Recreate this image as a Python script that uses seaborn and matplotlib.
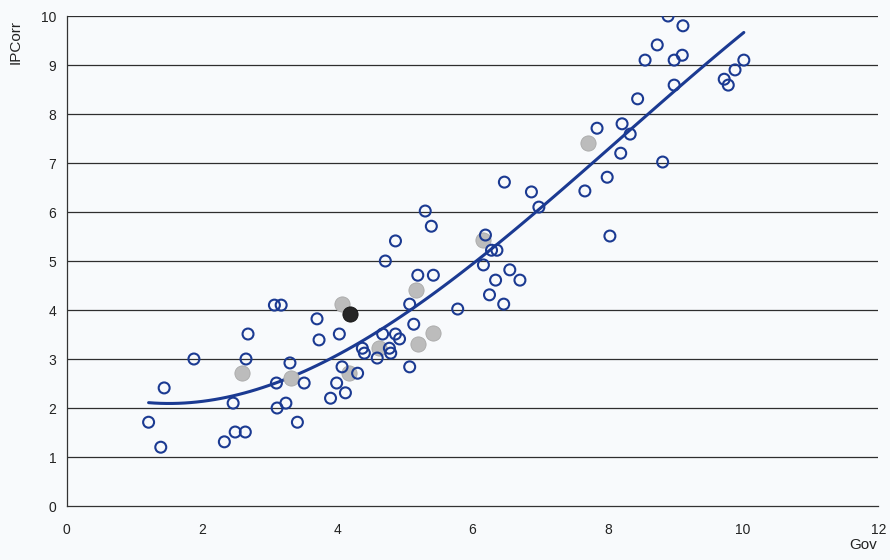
import matplotlib.pyplot as plt
import numpy as np
import pandas as pd
import seaborn as sns

# open circles
gov_open = [1.21, 1.39, 1.44, 1.88, 2.33, 2.46, 2.49, 2.64, 2.65, 2.68,
            3.07, 3.17, 3.10, 3.11, 3.24, 3.30, 3.41, 3.51, 3.70, 3.73,
            3.90, 3.99, 4.03, 4.07, 4.12, 4.30, 4.37, 4.40, 4.59, 4.67,
            4.71, 4.77, 4.79, 4.86, 4.86, 4.92, 5.07, 5.07, 5.13, 5.19,
            5.30, 5.39, 5.42, 5.78, 6.19, 6.16, 6.25, 6.28, 6.36, 6.34,
            6.46, 6.47, 6.55, 6.70, 6.87, 6.98, 7.66, 7.84, 7.99, 8.03,
            8.19, 8.21, 8.33, 8.44, 8.55, 8.73, 8.81, 8.89, 8.98, 8.98,
            9.10, 9.11, 9.72, 9.78, 9.88, 10.01]
ipc_open = [1.71, 1.20, 2.41, 3.00, 1.31, 2.10, 1.51, 1.51, 3.00, 3.51,
            4.10, 4.10, 2.51, 2.00, 2.10, 2.92, 1.71, 2.51, 3.82, 3.39,
            2.20, 2.51, 3.51, 2.84, 2.31, 2.71, 3.22, 3.12, 3.02, 3.51,
            5.00, 3.22, 3.12, 3.51, 5.41, 3.41, 2.84, 4.12, 3.71, 4.71,
            6.02, 5.71, 4.71, 4.02, 5.53, 4.92, 4.31, 5.22, 5.22, 4.61,
            4.12, 6.61, 4.82, 4.61, 6.41, 6.10, 6.43, 7.71, 6.71, 5.51,
            7.20, 7.80, 7.59, 8.31, 9.10, 9.41, 7.02, 10.00, 9.10, 8.59,
            9.20, 9.80, 8.71, 8.59, 8.90, 9.10]

# grey filled circles
gov_grey = [2.59, 3.32, 4.07, 4.18, 4.61, 5.17, 5.19, 5.41, 6.15, 7.70]
ipc_grey = [2.71, 2.61, 4.12, 2.71, 3.22, 4.41, 3.31, 3.53, 5.43, 7.41]

# black filled circle
gov_black = [4.19]
ipc_black = [3.92]

x_ticks = [0, 2, 4, 6, 8, 10, 12]
y_ticks = [0, 1, 2, 3, 4, 5, 6, 7, 8, 9, 10]

sns.set_theme(style="white")
plt.rcParams["font.family"] = ["Liberation Sans", "DejaVu Sans"]

blue = "#1b3a92"
bg = "#f8fafc"

all_df = pd.DataFrame({
    "Gov": gov_open + gov_grey + gov_black,
    "IPCorr": ipc_open + ipc_grey + ipc_black,
})

fig = plt.figure(figsize=(8.9, 5.6), dpi=100, facecolor=bg)
ax = fig.add_axes([0.075, 0.0964, 0.912, 0.875])
ax.set_facecolor(bg)

for y in y_ticks[1:]:
    ax.axhline(y, color="#2e2e2e", lw=0.9, zorder=0)

sns.regplot(data=all_df, x="Gov", y="IPCorr", order=3, ci=None, scatter=False,
            line_kws={"color": blue, "lw": 2.2}, ax=ax)

sns.scatterplot(x=gov_grey, y=ipc_grey, s=120, color="#bcbcbc",
                edgecolor="#a9a9a9", linewidth=0.6, ax=ax, zorder=3)
sns.scatterplot(x=gov_black, y=ipc_black, s=120, color="#262626",
                edgecolor="#111111", linewidth=0.6, ax=ax, zorder=3)
sns.scatterplot(x=gov_open, y=ipc_open, s=62, facecolor="none",
                edgecolor=blue, linewidth=1.5, ax=ax, zorder=4)

ax.set_xlim(0, 12)
ax.set_ylim(0, 10)
ax.set_xticks(x_ticks)
ax.set_yticks(y_ticks)
ax.tick_params(axis="both", direction="out", length=4, width=0.8,
               color="#333333", labelsize=10, labelcolor="#222222")
ax.tick_params(axis="x", pad=8)

for side in ["top", "right"]:
    ax.spines[side].set_visible(False)
for side in ["left", "bottom"]:
    ax.spines[side].set_color("#333333")
    ax.spines[side].set_linewidth(0.9)

ax.set_xlabel("")
ax.set_ylabel("")
fig.text(0.018, 0.925, "IPCorr", rotation=90, fontsize=11, color="#222222",
         ha="center", va="center")
fig.text(0.985, 0.015, "Gov", fontsize=11, color="#222222",
         ha="right", va="bottom")

fig.savefig("out.png", dpi=100, facecolor=bg)
